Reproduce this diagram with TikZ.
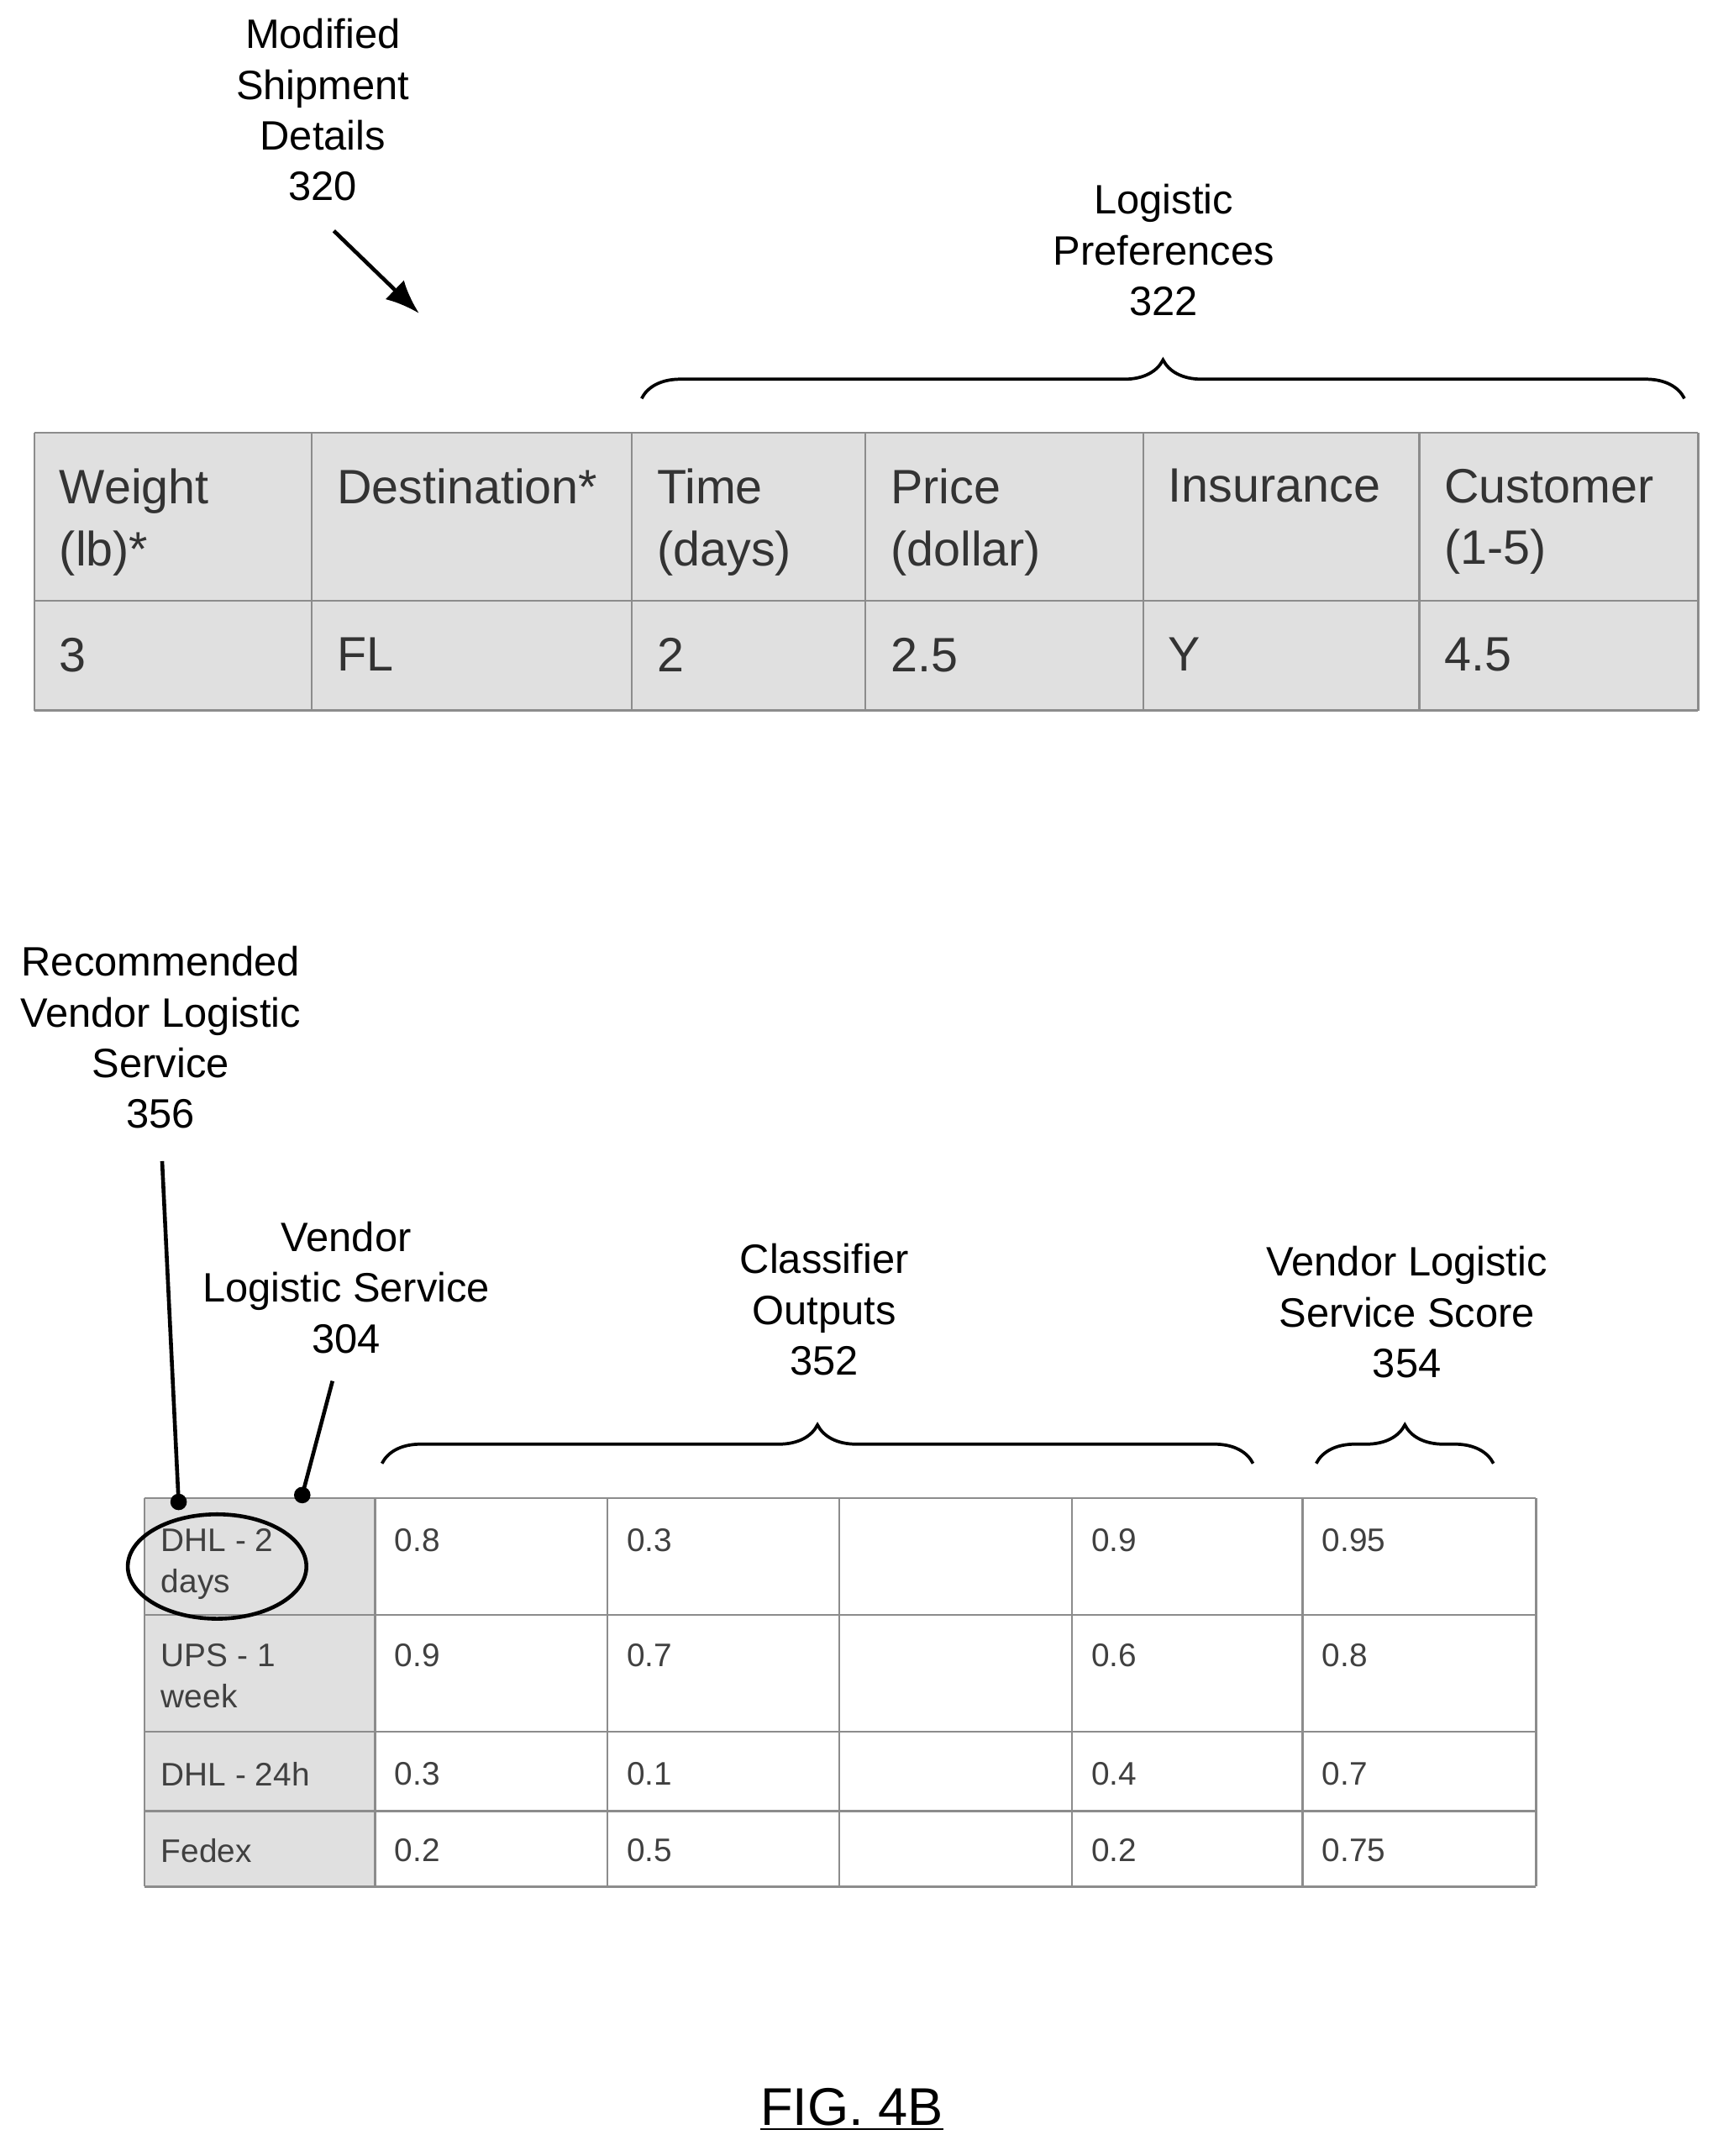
\documentclass[tikz,border=0pt]{standalone}
\usepackage{fontspec}
\setmainfont{Liberation Sans}
\usetikzlibrary{decorations.pathreplacing,arrows.meta}
\tikzstyle{lbl} = [align=center, font=\fontsize{17}{21}\selectfont]
\tikzstyle{hcell} = [anchor=north west, align=left, inner sep=0pt, text=black!80, font=\fontsize{20}{25.5}\selectfont]
\tikzstyle{scell} = [anchor=north west, align=left, inner sep=0pt, text=black!75, font=\fontsize{13.5}{17}\selectfont]
\tikzstyle{grid} = [draw=black!45, line width=0.8pt]
\tikzstyle{brace} = [draw, line width=1.3pt, decorate, decoration={brace, amplitude=16pt}]
\tikzstyle{line} = [draw, line width=1.6pt]
\begin{document}
\begin{tikzpicture}[x=0.02cm, y=-0.02cm]
	\useasboundingbox (0,0) rectangle (1250,1569);
	
	% shipment table
	\fill [black!12] (25,315) rectangle (1236,517);
	\foreach \x in {25,227,460,630,832,1033,1236}
		\draw [grid] (\x,315) -- (\x,517);
	\foreach \y in {315,437,517}
		\draw [grid] (25,\y) -- (1236,\y);
	\node [hcell] (hw) at (43,341) {Weight\\(lb)*};
	\node [hcell] (hd) at (245,341) {Destination*};
	\node [hcell] (ht) at (478,341) {Time\\(days)};
	\node [hcell] (hp) at (648,341) {Price\\(dollar)};
	\node [hcell] (hi) at (850,341) {Insurance};
	\node [hcell] (hc) at (1051,341) {Customer\\(1-5)};
	\node [hcell] (dw) at (43,464) {3};
	\node [hcell] (dd) at (245,464) {FL};
	\node [hcell] (dt) at (478,464) {2};
	\node [hcell] (dp) at (648,464) {2.5};
	\node [hcell] (di) at (850,464) {Y};
	\node [hcell] (dc) at (1051,464) {4.5};
	
	\node [lbl] (msd) at (235,80) {Modified\\Shipment\\Details\\320};
	\coordinate (msdend) at (305,228);
	\draw [line, -{Latex[length=14pt,width=11pt]}] (243,168) -- (msdend);
	\node [lbl] (lp) at (847,182) {Logistic\\Preferences\\322};
	\draw [brace] (467,290) -- (1226,290);
	
	% vendor table
	\fill [black!12] (105,1090) rectangle (273,1373);
	\foreach \x in {105,273,442,611,780,948,1118}
		\draw [grid] (\x,1090) -- (\x,1373);
	\foreach \y in {1090,1175,1260,1318,1373}
		\draw [grid] (105,\y) -- (1118,\y);
	\foreach \name/\y/\a/\b/\c/\d/\s in {v1/1112/DHL - 2\\days/0.8/0.3/0.9/0.95,
		v2/1196/UPS - 1\\week/0.9/0.7/0.6/0.8,
		v3/1282/DHL - 24h/0.3/0.1/0.4/0.7,
		v4/1338/Fedex/0.2/0.5/0.2/0.75} {
		\node [scell] (\name) at (117,\y) {\a};
		\node [scell] (\name a) at (287,\y) {\b};
		\node [scell] (\name b) at (456,\y) {\c};
		\node [scell] (\name c) at (794,\y) {\d};
		\node [scell] (\name s) at (962,\y) {\s};
	}
	\draw [line] (158,1140) ellipse (65 and 38);
	
	\node [lbl] (rec) at (117,755) {Recommended\\Vendor Logistic\\Service\\356};
	\coordinate (recdot) at (130,1093);
	\draw [line] (118,845) -- (recdot);
	\fill (recdot) circle (6);
	\node [lbl] (vls) at (252,937) {Vendor\\Logistic Service\\304};
	\coordinate (vlsdot) at (220,1088);
	\draw [line] (242,1005) -- (vlsdot);
	\fill (vlsdot) circle (6);
	
	\node [lbl] (co) at (600,953) {Classifier\\Outputs\\352};
	\draw [brace] (278,1065) -- (912,1065);
	\node [lbl] (vs) at (1024,955) {Vendor Logistic\\Service Score\\354};
	\draw [brace] (958,1065) -- (1087,1065);
	
	\node [font=\fontsize{22}{26}\selectfont] (fig) at (620,1535) {\underline{FIG. 4B}};
\end{tikzpicture}
\end{document}
